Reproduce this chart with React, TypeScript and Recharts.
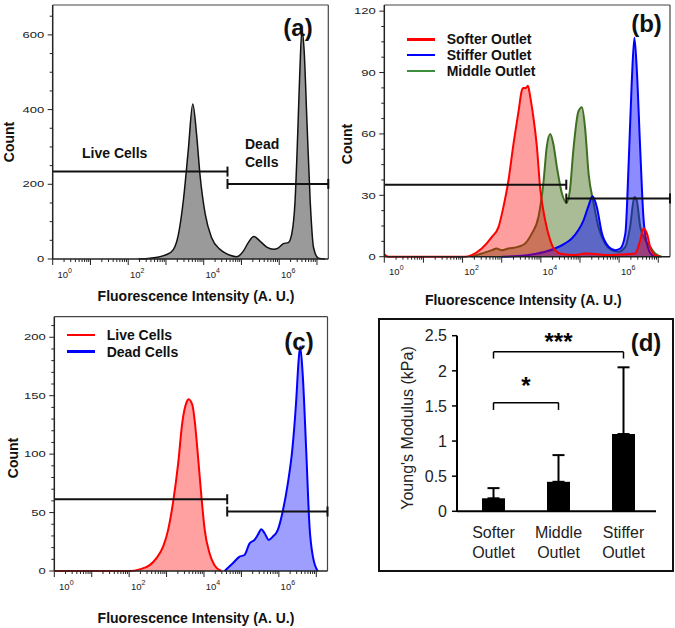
import React from "react";
import {
  ComposedChart,
  Area,
  Line,
  XAxis,
  YAxis,
  ReferenceLine,
  BarChart,
  Bar,
  ErrorBar,
} from "recharts";

// x values are log10(fluorescence), y values are event counts

const aGrayX = [2.27, 2.58, 3.02, 3.2, 3.33, 3.46, 3.59, 3.71, 3.81, 3.9, 4.04, 4.21, 4.43, 4.7, 4.87, 5.05, 5.18, 5.33, 5.49, 5.67, 5.85, 5.98, 6.11, 6.24, 6.33, 6.42, 6.49, 6.55, 6.6, 6.66, 6.73, 6.82, 6.91, 7.04, 7.21];
const aGrayY = [0, 2, 12, 26, 66, 156, 290, 415, 335, 227, 120, 57, 26, 10, 6, 21, 44, 60, 48, 32, 26, 30, 41, 44, 66, 156, 335, 514, 612, 558, 380, 156, 30, 2, 0];

const bSofterX = [0, 0.1, 2.06, 2.23, 2.49, 2.75, 2.92, 3.04, 3.17, 3.3, 3.43, 3.51, 3.55, 3.61, 3.67, 3.73, 3.81, 3.9, 3.98, 4.11, 4.24, 4.36, 4.54, 4.88, 5.13, 5.39, 5.73, 6.07, 6.41, 6.54, 6.62, 6.71, 6.79, 6.92, 7.05];
const bSofterY = [1.2, 0, 0, 0.8, 4, 9.7, 14.6, 24, 37, 55, 71, 81, 82.4, 82.4, 83.5, 78, 68, 53.5, 34, 17.8, 8, 3.2, 1.3, 0.8, 1.6, 1.3, 0.8, 1.1, 1.6, 8, 13.8, 11.4, 4.9, 0.8, 0];

const bMiddleX = [2.23, 2.49, 2.75, 2.87, 3.0, 3.17, 3.43, 3.6, 3.77, 3.94, 4.07, 4.15, 4.24, 4.32, 4.41, 4.54, 4.66, 4.74, 4.83, 4.96, 5.05, 5.13, 5.22, 5.35, 5.47, 5.64, 5.81, 5.98, 6.16, 6.28, 6.39, 6.45, 6.54, 6.67, 6.79, 6.92, 7.09];
const bMiddleY = [0, 1.6, 3.2, 4, 3.2, 4, 4.9, 6.5, 11.4, 19.5, 37, 53.5, 60, 55, 43.8, 30.8, 26.5, 32, 52, 71, 73, 63, 40.5, 26, 14.6, 6.5, 3.2, 2.4, 4.9, 14.6, 29.2, 27.6, 14.6, 8, 4.9, 1.6, 0];

const bStifferX = [3.0, 3.43, 3.85, 4.11, 4.36, 4.62, 4.79, 4.96, 5.09, 5.22, 5.32, 5.43, 5.56, 5.73, 5.9, 6.03, 6.16, 6.24, 6.32, 6.39, 6.45, 6.54, 6.62, 6.71, 6.84, 6.97];
const bStifferY = [0, 0.3, 1.3, 2.4, 4, 6.5, 8.9, 13, 17.8, 25, 29.5, 24.3, 11.4, 4.9, 3.2, 4, 11.4, 43.8, 84, 107, 92, 52, 19.5, 6.5, 0.8, 0];

const cLiveX = [0, 2.02, 2.28, 2.55, 2.73, 2.91, 3.04, 3.17, 3.31, 3.42, 3.53, 3.59, 3.69, 3.75, 3.84, 3.93, 4.02, 4.15, 4.28, 4.46];
const cLiveY = [0, 0, 1.4, 5, 11, 21, 35, 58, 92, 127, 144, 147, 142, 129, 98, 64, 35, 15, 5, 0];

const cDeadX = [4.55, 4.77, 4.95, 5.08, 5.22, 5.35, 5.44, 5.53, 5.62, 5.73, 5.84, 5.97, 6.11, 6.24, 6.36, 6.46, 6.53, 6.57, 6.64, 6.73, 6.82, 6.91, 7.04];
const cDeadY = [0, 6.6, 12.3, 13.7, 23.7, 26.6, 31, 35.7, 32.3, 26.6, 29.4, 35, 52, 75, 104, 144, 181, 192, 167, 104, 38, 12.3, 0];

// gates: [from, to, level]
const aGates = [[0, 4.63, 234], [4.63, 7.3, 201]];
const bGates = [[0, 4.65, 35.2], [4.65, 7.3, 28.4]];
const cGates = [[0, 4.62, 61.4], [4.62, 7.3, 50.9]];

const logMax = 7.3;
const decades = [0, 1, 2, 3, 4, 5, 6, 7];

// panel d
const dCategories = ["Softer Outlet", "Middle Outlet", "Stiffer Outlet"];
const dModulus = [0.185, 0.42, 1.1];
const dErr = [0.145, 0.38, 0.95];
const dTicks = [0, 0.5, 1, 1.5, 2, 2.5];
const dSig = [
  { from: "Softer Outlet", to: "Stiffer Outlet", y: 2.27, leg: 2.175, mark: "***", off: 2 },
  { from: "Softer Outlet", to: "Middle Outlet", y: 1.547, leg: 1.443, mark: "*", off: 9 },
];

const FONT = '"Liberation Sans", Arial, sans-serif';

const xTicks: number[] = [];
decades.forEach((d) => {
  xTicks.push(d);
  for (let k = 2; k <= 9; k++) {
    const t = d + Math.log10(k);
    if (t <= logMax) xTicks.push(t);
  }
});

const toPts = (xs: number[], ys: number[]) => xs.map((x, i) => ({ x, y: ys[i] }));
const stepTicks = (step: number, max: number) => {
  const out: number[] = [];
  for (let v = 0; v <= max + 1e-9; v += step) out.push(Math.round(v * 100) / 100);
  return out;
};

const LogTick = (props: any) => {
  const { x, y, payload } = props;
  const v = payload.value;
  const major = Math.abs(v - Math.round(v)) < 1e-6;
  const exp = Math.round(v);
  return (
    <g>
      <line x1={x} x2={x} y1={y} y2={y + (major ? 6 : 3)} stroke="#222" strokeWidth={1} />
      {major && exp % 2 === 0 && (
        <text x={x + (exp === 0 ? 12 : 9)} y={y + 18.5} textAnchor="middle" fontSize={9.5} fill="#222">
          10
          <tspan dy={-5} fontSize={7}>{exp}</tspan>
        </text>
      )}
    </g>
  );
};

const CountTick = (props: any) => {
  const { x, y, payload, labelStep } = props;
  const v = payload.value;
  const r = v / labelStep;
  const major = Math.abs(r - Math.round(r)) < 1e-6;
  return (
    <g>
      <line x1={x - (major ? 5 : 3)} x2={x} y1={y} y2={y} stroke="#222" strokeWidth={1} />
      {major && (
        <text transform={`translate(${x - 8.5},${y + 3.2}) scale(1.45,1)`} textAnchor="end" fontSize={9} fill="#222">
          {v}
        </text>
      )}
    </g>
  );
};

const GateCap = (props: any) => {
  const { cx, cy, payload } = props;
  if (payload.x <= 0) return <g />;
  return <line x1={cx} x2={cx} y1={cy - 5} y2={cy + 5} stroke="#111" strokeWidth={2} />;
};

type Series = { name: string; xs: number[]; ys: number[]; stroke: string; fill: string; op: number; sw: number };

function Histogram(p: {
  left: number; top: number; width: number; height: number;
  yAxisW: number; xAxisH: number; mTop: number; mRight: number;
  yMax: number; yStep: number; yLabelStep: number;
  series: Series[]; gates: number[][];
}) {
  return (
    <div style={{ position: "absolute", left: p.left, top: p.top }}>
      <ComposedChart width={p.width} height={p.height} margin={{ top: p.mTop, right: p.mRight, left: 0, bottom: 0 }}>
        <XAxis type="number" dataKey="x" domain={[0, logMax]} ticks={xTicks} interval={0}
          height={p.xAxisH} tickSize={0} tickMargin={0} tickLine={false}
          axisLine={{ stroke: "#222", strokeWidth: 1.5 }} tick={<LogTick />} />
        <YAxis type="number" domain={[0, p.yMax]} ticks={stepTicks(p.yStep, p.yMax)} interval={0}
          width={p.yAxisW} tickSize={0} tickMargin={0} tickLine={false}
          axisLine={{ stroke: "#222", strokeWidth: 1.5 }}
          tick={(tp: any) => <CountTick {...tp} labelStep={p.yLabelStep} />} />
        <ReferenceLine y={p.yMax} stroke="#444" strokeWidth={1.2} />
        <ReferenceLine x={logMax} stroke="#444" strokeWidth={1.2} />
        {p.series.map((s) => (
          <Area key={s.name} name={s.name} data={toPts(s.xs, s.ys)} dataKey="y" type="monotone"
            stroke={s.stroke} strokeWidth={s.sw} fill={s.fill} fillOpacity={s.op}
            dot={false} activeDot={false} isAnimationActive={false} />
        ))}
        {p.gates.map((g, i) => (
          <Line key={"gate" + i} data={[{ x: g[0], y: g[2] }, { x: g[1], y: g[2] }]} dataKey="y"
            type="linear" stroke="#111" strokeWidth={2} activeDot={false} isAnimationActive={false}
            dot={(dp: any) => <GateCap key={`cap${i}-${dp.index}`} {...dp} />} />
        ))}
      </ComposedChart>
    </div>
  );
}

function Txt(p: { x: number; y: number; size: number; bold?: boolean; anchor?: string; rotate?: boolean; color?: string; children: React.ReactNode }) {
  const tx = p.anchor === "middle" ? "-50%" : p.anchor === "end" ? "-100%" : "0";
  return (
    <div style={{
      position: "absolute", left: p.x, top: p.y, fontSize: p.size, fontWeight: p.bold ? 700 : 400,
      color: p.color || "#111", lineHeight: 1, whiteSpace: "nowrap",
      transform: p.rotate ? "translate(-50%,-50%) rotate(-90deg)" : `translate(${tx},-50%)`,
    }}>
      {p.children}
    </div>
  );
}

const Swatch = ({ x, y, color }: { x: number; y: number; color: string }) => (
  <div style={{ position: "absolute", left: x, top: y - 1.25, width: 28, height: 2.5, background: color }} />
);

const CatTick = (p: any) => {
  const words = String(p.payload.value).split(" ");
  return (
    <text x={p.x} y={p.y} textAnchor="middle" fontSize={16} fill="#222">
      {words.map((w, i) => (
        <tspan key={i} x={p.x} y={p.y + 27 + i * 20}>{w}</tspan>
      ))}
    </text>
  );
};

export default function App() {
  const dData = dCategories.map((c, i) => ({ name: c, v: dModulus[i], err: [0, dErr[i]] }));
  return (
    <div style={{ position: "absolute", left: 0, top: 0, width: 675, height: 628, background: "#fff", fontFamily: FONT, overflow: "hidden" }}>
      <Histogram left={0} top={0} width={340} height={310} yAxisW={52.7} xAxisH={51} mTop={5} mRight={11.7}
        yMax={680} yStep={50} yLabelStep={200}
        series={[{ name: "all", xs: aGrayX, ys: aGrayY, stroke: "#111", fill: "#9a9a9a", op: 1, sw: 1.5 }]}
        gates={aGates} />
      <Histogram left={335} top={0} width={340} height={310} yAxisW={49.3} xAxisH={53.3} mTop={5} mRight={5}
        yMax={123} yStep={7.5} yLabelStep={30}
        series={[
          { name: "Middle Outlet", xs: bMiddleX, ys: bMiddleY, stroke: "#3f6f22", fill: "#557a2c", op: 0.5, sw: 2 },
          { name: "Stiffer Outlet", xs: bStifferX, ys: bStifferY, stroke: "#0000ff", fill: "#0000ff", op: 0.45, sw: 2 },
          { name: "Softer Outlet", xs: bSofterX, ys: bSofterY, stroke: "#ff0000", fill: "#ff0000", op: 0.38, sw: 2 },
        ]}
        gates={bGates} />
      <Histogram left={0} top={310} width={340} height={318} yAxisW={54.3} xAxisH={57} mTop={6.7} mRight={12.5}
        yMax={217.6} yStep={10} yLabelStep={50}
        series={[
          { name: "Dead Cells", xs: cDeadX, ys: cDeadY, stroke: "#0000ff", fill: "#0000ff", op: 0.38, sw: 2 },
          { name: "Live Cells", xs: cLiveX, ys: cLiveY, stroke: "#ff0000", fill: "#ff0000", op: 0.37, sw: 2 },
        ]}
        gates={cGates} />

      {/* panel d */}
      <div style={{ position: "absolute", left: 378, top: 318, width: 296, height: 254, border: "2.5px solid #111", boxSizing: "border-box" }} />
      <div style={{ position: "absolute", left: 378, top: 318 }}>
        <BarChart width={296} height={254} data={dData} margin={{ top: 17.7, right: 18, left: 0, bottom: 0 }}>
          <XAxis dataKey="name" height={60.7} axisLine={{ stroke: "#000", strokeWidth: 2 }} tickLine={false}
            tickSize={0} tickMargin={0} interval={0} tick={<CatTick />} padding={{ left: 4, right: 0 }} />
          <YAxis width={79} domain={[0, 2.5]} ticks={dTicks} interval={0} tickSize={5} tickMargin={5}
            axisLine={{ stroke: "#000", strokeWidth: 2 }} tickLine={{ stroke: "#000", strokeWidth: 1.5 }}
            tick={{ fontSize: 16, fill: "#222" }} />
          <Bar dataKey="v" fill="#000" barSize={23} isAnimationActive={false}>
            <ErrorBar dataKey="err" width={6} strokeWidth={2} stroke="#000" direction="y" isAnimationActive={false} />
          </Bar>
          {dSig.map((s, i) => (
            <ReferenceLine key={"sig" + i} segment={[{ x: s.from, y: s.y }, { x: s.to, y: s.y }]}
              stroke="#000" strokeWidth={1.5} ifOverflow="visible"
              label={{ value: s.mark, position: "top", offset: s.off, fontSize: 24, fontWeight: 700, fill: "#000" }} />
          ))}
          {dSig.map((s, i) => (
            <ReferenceLine key={"legA" + i} segment={[{ x: s.from, y: s.y }, { x: s.from, y: s.leg }]}
              stroke="#000" strokeWidth={1.5} ifOverflow="visible" />
          ))}
          {dSig.map((s, i) => (
            <ReferenceLine key={"legB" + i} segment={[{ x: s.to, y: s.y }, { x: s.to, y: s.leg }]}
              stroke="#000" strokeWidth={1.5} ifOverflow="visible" />
          ))}
        </BarChart>
      </div>

      {/* titles and annotations */}
      <Txt x={9} y={142} size={14} bold rotate>Count</Txt>
      <Txt x={196} y={296} size={14} bold anchor="middle">Fluorescence Intensity (A. U.)</Txt>
      <Txt x={82} y={153} size={14} bold>Live Cells</Txt>
      <Txt x={245} y={144} size={14} bold>Dead</Txt>
      <Txt x={245} y={162} size={14} bold>Cells</Txt>
      <Txt x={298} y={27.5} size={24} bold anchor="middle">(a)</Txt>

      <Txt x={346.7} y={144} size={14} bold rotate>Count</Txt>
      <Txt x={523.3} y={300} size={14} bold anchor="middle">Fluorescence Intensity (A. U.)</Txt>
      <Swatch x={406.7} y={39.3} color="#ff0000" />
      <Swatch x={406.7} y={55} color="#0000ff" />
      <Swatch x={406.7} y={71} color="#3c8d3c" />
      <Txt x={446.7} y={39.3} size={14} bold>Softer Outlet</Txt>
      <Txt x={446.7} y={55} size={14} bold>Stiffer Outlet</Txt>
      <Txt x={446.7} y={71} size={14} bold>Middle Outlet</Txt>
      <Txt x={646.5} y={24} size={24} bold anchor="middle">(b)</Txt>

      <Txt x={13.3} y={458} size={14} bold rotate>Count</Txt>
      <Txt x={196} y={618} size={14} bold anchor="middle">Fluorescence Intensity (A. U.)</Txt>
      <Swatch x={66.7} y={335} color="#ff0000" />
      <Swatch x={66.7} y={351.7} color="#0000ff" />
      <Txt x={106.7} y={335} size={14} bold>Live Cells</Txt>
      <Txt x={106.7} y={351.7} size={14} bold>Dead Cells</Txt>
      <Txt x={299} y={341.7} size={24} bold anchor="middle">(c)</Txt>

      <Txt x={408} y={428} size={16} rotate color="#222">Young's Modulus (kPa)</Txt>
      <Txt x={646} y={343} size={24} bold anchor="middle">(d)</Txt>
    </div>
  );
}
